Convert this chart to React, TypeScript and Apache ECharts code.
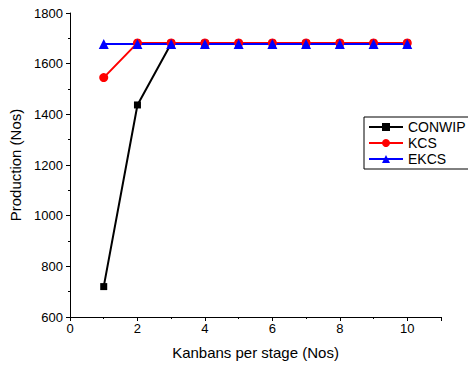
import React, { useEffect, useRef } from "react";
import * as echarts from "echarts";

const kanbans = [1, 2, 3, 4, 5, 6, 7, 8, 9, 10];
const conwip = [720, 1437, 1680, 1680, 1680, 1680, 1680, 1680, 1680, 1680];
const kcs = [1545, 1682, 1682, 1682, 1682, 1682, 1682, 1682, 1682, 1682];
const ekcs = [1678, 1678, 1678, 1678, 1678, 1678, 1678, 1678, 1678, 1678];
const seriesNames = ["CONWIP", "KCS", "EKCS"];

const font = "Liberation Sans, Arial, sans-serif";

export default function App() {
  const ref = useRef<HTMLDivElement>(null);
  useEffect(() => {
    if (!ref.current) return;
    const chart = echarts.init(ref.current, undefined, { renderer: "svg" });
    const pair = (vals: number[]) => kanbans.map((k, i) => [k, vals[i]]);
    const axisLine = { show: true, lineStyle: { color: "#000", width: 1 } };
    chart.setOption({
      animation: false,
      backgroundColor: "#fff",
      textStyle: { fontFamily: font },
      grid: { left: 70, top: 13, width: 371, height: 304 },
      legend: {
        orient: "vertical",
        left: 364,
        top: 117,
        data: seriesNames,
        borderColor: "#000",
        borderWidth: 1,
        borderRadius: 0,
        padding: [3, 4, 3, 4],
        itemGap: 2,
        itemWidth: 34,
        itemHeight: 10,
        textStyle: { fontSize: 14, color: "#000", fontFamily: font },
      },
      xAxis: [
        {
          type: "value",
          position: "bottom",
          min: 0,
          max: 11,
          interval: 1,
          axisLine,
          axisTick: { show: true, length: 2, lineStyle: { color: "#000" } },
          axisLabel: { show: false },
          splitLine: { show: false },
        },
        {
          type: "value",
          position: "bottom",
          min: 0,
          max: 11,
          interval: 2,
          axisLine: { show: false },
          axisTick: { show: true, length: 4, lineStyle: { color: "#000" } },
          axisLabel: {
            fontSize: 13,
            color: "#000",
            margin: 5,
            formatter: (v: number) => (v > 10 ? "" : String(v)),
          },
          splitLine: { show: false },
          name: "Kanbans per stage (Nos)",
          nameLocation: "middle",
          nameGap: 28,
          nameTextStyle: { fontSize: 15, color: "#000" },
        },
      ],
      yAxis: {
        type: "value",
        min: 600,
        max: 1800,
        interval: 200,
        axisLine,
        axisTick: { show: true, length: 4, lineStyle: { color: "#000" } },
        minorTick: { show: true, splitNumber: 2, length: 2, lineStyle: { color: "#000" } },
        axisLabel: { fontSize: 13, color: "#000", margin: 7, formatter: (v: number) => String(v) },
        splitLine: { show: false },
        name: "Production (Nos)",
        nameLocation: "middle",
        nameGap: 45,
        nameTextStyle: { fontSize: 15, color: "#000" },
      },
      series: [
        {
          name: seriesNames[0],
          type: "line",
          xAxisIndex: 0,
          data: pair(conwip),
          symbol: "rect",
          symbolSize: 7,
          color: "#000",
          lineStyle: { width: 2, color: "#000" },
          itemStyle: { color: "#000" },
        },
        {
          name: seriesNames[1],
          type: "line",
          xAxisIndex: 0,
          data: pair(kcs),
          symbol: "circle",
          symbolSize: 9,
          color: "#ff0000",
          lineStyle: { width: 2, color: "#ff0000" },
          itemStyle: { color: "#ff0000" },
        },
        {
          name: seriesNames[2],
          type: "line",
          xAxisIndex: 0,
          data: pair(ekcs),
          symbol: "triangle",
          symbolSize: 10,
          color: "#0000ff",
          lineStyle: { width: 2, color: "#0000ff" },
          itemStyle: { color: "#0000ff" },
        },
      ],
    });
    return () => chart.dispose();
  }, []);
  return (
    <div
      ref={ref}
      style={{ position: "absolute", left: 0, top: 0, width: 468, height: 366, background: "#fff" }}
    />
  );
}
